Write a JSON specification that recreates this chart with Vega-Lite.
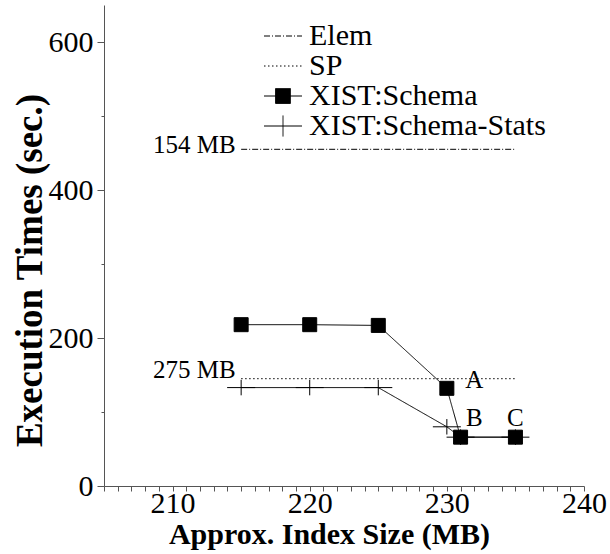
{
  "$schema": "https://vega.github.io/schema/vega-lite/v6.json",
  "width": 480,
  "height": 481,
  "autosize": "none",
  "padding": {"left": 104, "top": 5, "right": 26, "bottom": 68},
  "background": "white",
  "config": {
    "view": {"stroke": null},
    "font": "Liberation Serif",
    "axis": {"grid": false, "domainColor": "#555555", "tickColor": "#555555", "labelColor": "black", "titleColor": "black", "labelFont": "Liberation Serif", "titleFont": "Liberation Serif"}
  },
  "datasets": {
    "series": [
      {"series": "Elem", "size": 215, "time": 455},
      {"series": "Elem", "size": 235, "time": 455},
      {"series": "SP", "size": 215, "time": 145},
      {"series": "SP", "size": 235, "time": 145},
      {"series": "XIST:Schema-Stats", "size": 215, "time": 133},
      {"series": "XIST:Schema-Stats", "size": 220, "time": 133},
      {"series": "XIST:Schema-Stats", "size": 225, "time": 133},
      {"series": "XIST:Schema-Stats", "size": 230, "time": 80},
      {"series": "XIST:Schema-Stats", "size": 231, "time": 66},
      {"series": "XIST:Schema-Stats", "size": 235, "time": 66},
      {"series": "XIST:Schema", "size": 215, "time": 218},
      {"series": "XIST:Schema", "size": 220, "time": 218},
      {"series": "XIST:Schema", "size": 225, "time": 217},
      {"series": "XIST:Schema", "size": 230, "time": 132},
      {"series": "XIST:Schema", "size": 231, "time": 66},
      {"series": "XIST:Schema", "size": 235, "time": 66}
    ],
    "sideNotes": [
      {"size": 214.6, "time": 461, "label": "154 MB"},
      {"size": 214.6, "time": 157, "label": "275 MB"}
    ],
    "pointNotes": [
      {"size": 232, "time": 143, "label": "A"},
      {"size": 232, "time": 92.5, "label": "B"},
      {"size": 235, "time": 92.5, "label": "C"}
    ]
  },
  "layer": [
    {
      "data": {"name": "series"},
      "mark": {"type": "line", "strokeWidth": 1, "color": "black"},
      "encoding": {
        "x": {
          "field": "size", "type": "quantitative",
          "scale": {"domain": [205, 240], "nice": false, "zero": false},
          "axis": {
            "values": [205,206,207,208,209,210,211,212,213,214,215,216,217,218,219,220,221,222,223,224,225,226,227,228,229,230,231,232,233,234,235,236,237,238,239,240],
            "tickCount": 100,
            "format": "d",
            "labelExpr": "datum.value % 10 === 0 ? datum.label : ''",
            "tickSize": 5,
            "labelFontSize": 30,
            "labelPadding": -3,
            "labelOverlap": false,
            "labelFlush": false,
            "title": "Approx. Index Size (MB)",
            "titleFontSize": 30,
            "titleFontWeight": "bold",
            "titleX": 225,
            "titleY": 57,
            "titleBaseline": "alphabetic"
          }
        },
        "y": {
          "field": "time", "type": "quantitative",
          "scale": {"domain": [0, 650], "nice": false},
          "axis": {
            "values": [0, 100, 200, 300, 400, 500, 600],
            "tickCount": 100,
            "format": "d",
            "labelExpr": "datum.value % 200 === 0 ? datum.label : ''",
            "tickSize": {"condition": {"test": "datum.value % 200 === 0", "value": 7}, "value": 3},
            "labelFontSize": 30,
            "labelPadding": 4,
            "labelOverlap": false,
            "labelFlush": false,
            "title": "Execution Times (sec.)",
            "titleFontSize": 37,
            "titleFontWeight": "bold",
            "titleX": -63,
            "titleY": 265,
            "titleBaseline": "alphabetic"
          }
        },
        "strokeDash": {
          "field": "series", "type": "nominal",
          "scale": {"domain": ["Elem", "SP", "XIST:Schema", "XIST:Schema-Stats"], "range": [[6, 2, 1, 2], [1.5, 2.5], [1, 0], [1, 0]]}
        }
      }
    },
    {
      "data": {"name": "series"},
      "transform": [{"filter": "datum.series === 'XIST:Schema-Stats'"}],
      "mark": {"type": "point", "filled": true, "fill": "black", "stroke": "black", "strokeWidth": 1, "opacity": 1, "size": 426},
      "encoding": {
        "x": {"field": "size", "type": "quantitative"},
        "y": {"field": "time", "type": "quantitative"},
        "shape": {
          "field": "series", "type": "nominal",
          "scale": {"domain": ["Elem", "SP", "XIST:Schema", "XIST:Schema-Stats"], "range": ["M-1.357,0H1.357", "M-1.357,0H1.357", "M-1.357,0H1.357M-0.53,-0.53H0.53V0.53H-0.53Z", "M-1.357,0H1.357M0,-0.75V0.75"]},
          "legend": {
            "orient": "none",
            "legendX": 164,
            "legendY": 16,
            "title": null,
            "padding": 0,
            "rowPadding": 0,
            "labelFont": "Liberation Serif",
            "labelFontSize": 30,
            "labelColor": "black",
            "labelOffset": 11,
            "labelLimit": 400,
            "symbolSize": 784,
            "symbolStrokeWidth": 1,
            "symbolStrokeColor": "black",
            "symbolFillColor": "black"
          }
        }
      }
    },
    {
      "data": {"name": "series"},
      "transform": [{"filter": "datum.series === 'XIST:Schema'"}],
      "mark": {"type": "square", "filled": true, "color": "black", "stroke": "black", "strokeWidth": 1, "opacity": 1, "size": 196},
      "encoding": {
        "x": {"field": "size", "type": "quantitative"},
        "y": {"field": "time", "type": "quantitative"}
      }
    },
    {
      "data": {"name": "sideNotes"},
      "mark": {"type": "text", "font": "Liberation Serif", "fontSize": 25, "align": "right", "baseline": "middle", "color": "black"},
      "encoding": {
        "x": {"field": "size", "type": "quantitative"},
        "y": {"field": "time", "type": "quantitative"},
        "text": {"field": "label"}
      }
    },
    {
      "data": {"name": "pointNotes"},
      "mark": {"type": "text", "font": "Liberation Serif", "fontSize": 25, "align": "center", "baseline": "middle", "color": "black"},
      "encoding": {
        "x": {"field": "size", "type": "quantitative"},
        "y": {"field": "time", "type": "quantitative"},
        "text": {"field": "label"}
      }
    }
  ]
}
